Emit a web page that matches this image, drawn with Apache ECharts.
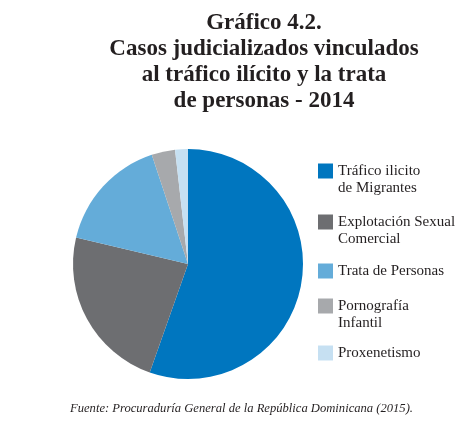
<!DOCTYPE html>
<html>
<head>
<meta charset="utf-8">
<script src="https://cdn.jsdelivr.net/npm/echarts@6/dist/echarts.min.js"></script>
<style>
  html, body { margin: 0; padding: 0; background: #fff; }
  #main { width: 462px; height: 427px; }
</style>
</head>
<body>
<div id="main"></div>
<script>
// Datos del gráfico (porcentajes)
var categorias = [
  'Tráfico ilicito\nde Migrantes',
  'Explotación Sexual\nComercial',
  'Trata de Personas',
  'Pornografía\nInfantil',
  'Proxenetismo'
];
var valores = [55.4, 23.3, 16.2, 3.3, 1.8];
var colores = ['#0076BF', '#6D6E71', '#64ACD9', '#A7A9AC', '#C6E0F2'];

// posición vertical (centro del icono) de cada elemento de la leyenda
var leyendaY = [171, 222, 271, 306, 353];

var chartDom = document.getElementById('main');
var myChart = echarts.init(chartDom);
var option;

var serif = '"Liberation Serif", "DejaVu Serif", serif';

// una leyenda por elemento; los nombres de dos líneas llevan una línea
// vacía delante para que el icono quede a la altura de la primera línea
var leyendas = categorias.map(function (nombre, i) {
  var dosLineas = nombre.indexOf('\n') >= 0;
  return {
    data: [nombre],
    orient: 'vertical',
    left: 318,
    top: leyendaY[i] - (dosLineas ? 25.5 : 8.5),
    padding: 0,
    itemWidth: 15,
    itemHeight: 15,
    icon: 'rect',
    selectedMode: false,
    formatter: function (n) {
      return n.indexOf('\n') >= 0 ? '\n' + n : n;
    },
    textStyle: {
      fontFamily: serif,
      fontSize: 15,
      lineHeight: 17,
      color: '#231F20'
    }
  };
});

option = {
  color: colores,
  title: [
    {
      text: 'Gráfico 4.2.\nCasos judicializados vinculados\nal tráfico ilícito y la trata\nde personas - 2014',
      left: 264,
      top: 10,
      textAlign: 'center',
      padding: 0,
      textStyle: {
        fontFamily: serif,
        fontWeight: 'bold',
        fontSize: 23,
        lineHeight: 26,
        color: '#231F20'
      }
    },
    {
      text: 'Fuente: Procuraduría General de la República Dominicana (2015).',
      left: 70,
      top: 402,
      padding: 0,
      textStyle: {
        fontFamily: serif,
        fontStyle: 'italic',
        fontWeight: 'normal',
        fontSize: 12.6,
        color: '#231F20'
      }
    }
  ],
  legend: leyendas,
  series: [
    {
      name: 'Casos',
      type: 'pie',
      center: [188, 264],
      radius: 115,
      startAngle: 90,
      clockwise: true,
      silent: true,
      label: { show: false },
      labelLine: { show: false },
      itemStyle: { borderWidth: 0 },
      data: categorias.map(function (c, i) {
        return { name: c, value: valores[i] };
      })
    }
  ]
};

option && myChart.setOption(option);
</script>
</body>
</html>
